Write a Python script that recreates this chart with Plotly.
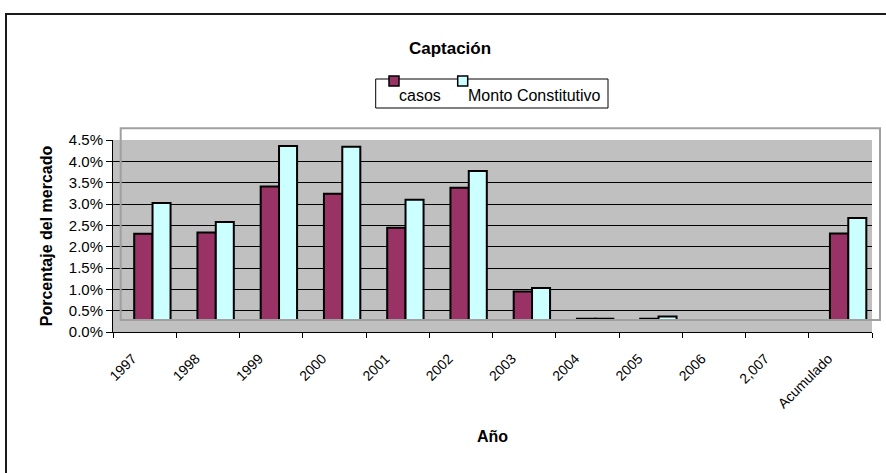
import plotly.graph_objects as go

# ---- data (percent of market, measured from the bar floor) ----
categories = ["1997", "1998", "1999", "2000", "2001", "2002", "2003",
              "2004", "2005", "2006", "2,007", "Acumulado"]
casos = [2.02, 2.05, 3.13, 2.96, 2.16, 3.10, 0.67, 0.03, 0.03, None, None, 2.03]
monto = [2.74, 2.30, 4.08, 4.06, 2.82, 3.49, 0.75, 0.03, 0.08, None, None, 2.39]
series_names = ["casos", "Monto Constitutivo"]
y_ticks = [0, 0.5, 1.0, 1.5, 2.0, 2.5, 3.0, 3.5, 4.0, 4.5]
y_tick_text = ["0.0%", "0.5%", "1.0%", "1.5%", "2.0%", "2.5%", "3.0%", "3.5%", "4.0%", "4.5%"]

# ---- layout geometry (pixels) ----
W, H = 886, 473
L, R, T, B = 113, 872, 140, 332
PW, PH = R - L, B - T
FLOOR = 0.281  # 3-D floor offset of the column chart

def px(x):
    return (x - L) / PW

def py(y):
    return (B - y) / PH

FONT = "Liberation Sans, Arial, sans-serif"
C_CASOS = "#993366"
C_MONTO = "#CCFFFF"

fig = go.Figure()
# invisible trace so the main (visible) axes are created
fig.add_trace(go.Scatter(x=categories, y=[None] * len(categories), mode="markers",
                         hoverinfo="skip", showlegend=False))
fig.add_trace(go.Bar(
    x=categories, y=casos, name=series_names[0], yaxis="y2",
    marker=dict(color=C_CASOS, line=dict(color="black", width=2)),
    offset=-0.165, width=0.29, showlegend=False))
fig.add_trace(go.Bar(
    x=categories, y=monto, name=series_names[1], yaxis="y2",
    marker=dict(color=C_MONTO, line=dict(color="black", width=2)),
    offset=0.125, width=0.285, showlegend=False))

shapes = [
    # outer chart border (left + top visible)
    dict(type="rect", xref="paper", yref="paper",
         x0=px(6), x1=px(900), y0=py(14), y1=py(490),
         line=dict(color="#1a1a1a", width=2), fillcolor="rgba(0,0,0,0)", layer="above"),
    # 3-D wall outline
    dict(type="rect", xref="paper", yref="paper",
         x0=px(120.7), x1=px(880), y0=py(320), y1=py(128.3),
         line=dict(color="#a0a0a0", width=2), fillcolor="rgba(0,0,0,0)", layer="above"),
    # legend box
    dict(type="rect", xref="paper", yref="paper",
         x0=px(375.7), x1=px(608), y0=py(108), y1=py(79),
         line=dict(color="black", width=1), fillcolor="white", layer="above"),
    # legend swatches
    dict(type="rect", xref="paper", yref="paper",
         x0=px(389), x1=px(399), y0=py(86), y1=py(76),
         line=dict(color="black", width=1.5), fillcolor=C_CASOS, layer="above"),
    dict(type="rect", xref="paper", yref="paper",
         x0=px(457.7), x1=px(467.7), y0=py(86), y1=py(76),
         line=dict(color="black", width=1.5), fillcolor=C_MONTO, layer="above"),
]

annotations = [
    dict(text=series_names[0], xref="paper", yref="paper", x=px(397), y=py(95),
         xanchor="left", yanchor="middle", showarrow=False,
         font=dict(family=FONT, size=16, color="black")),
    dict(text=series_names[1], xref="paper", yref="paper", x=px(465.7), y=py(95),
         xanchor="left", yanchor="middle", showarrow=False,
         font=dict(family=FONT, size=16, color="black")),
]

fig.update_layout(
    width=W, height=H,
    margin=dict(l=L, r=W - R, t=T, b=H - B, autoexpand=False),
    paper_bgcolor="white",
    plot_bgcolor="#C0C0C0",
    font=dict(family=FONT, color="black"),
    title=dict(text="<b>Captación</b>", x=450 / W, xref="container",
               xanchor="center", y=1 - 48 / H, yanchor="middle",
               font=dict(family=FONT, size=17, color="black")),
    barmode="group",
    showlegend=False,
    xaxis=dict(
        type="category", categoryorder="array", categoryarray=categories,
        range=[-0.5, len(categories) - 0.5],
        showline=True, linecolor="black", linewidth=1,
        ticks="outside", ticklen=5, tickcolor="black", tickson="boundaries",
        tickangle=-45, tickfont=dict(family=FONT, size=14),
        ticklabelshift=-12, ticklabelstandoff=12,
        showgrid=False, zeroline=False,
        title=dict(text="<b>Año</b>", font=dict(family=FONT, size=16), standoff=20),
        automargin=False,
    ),
    yaxis=dict(
        range=[0, 4.5], tickvals=y_ticks, ticktext=y_tick_text,
        showline=True, linecolor="black", linewidth=1,
        ticks="outside", ticklen=6, tickcolor="black",
        showgrid=True, gridcolor="black", gridwidth=1, zeroline=False,
        tickfont=dict(family=FONT, size=15),
        title=dict(text="<b>Porcentaje del mercado</b>", font=dict(family=FONT, size=16), standoff=12),
        automargin=False,
    ),
    yaxis2=dict(
        overlaying="y", range=[-FLOOR, 4.5 - FLOOR], visible=False,
    ),
    shapes=shapes,
    annotations=annotations,
)

fig.write_html("out.html", config={"displayModeBar": False},
               post_script="document.body.style.margin='0px';document.body.style.padding='0px';")
